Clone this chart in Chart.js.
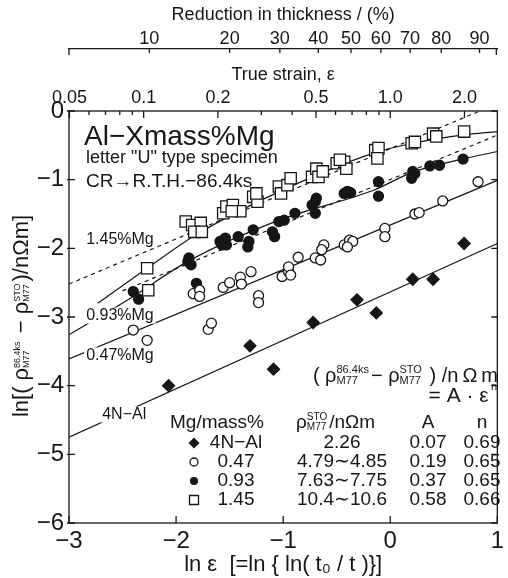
<!DOCTYPE html>
<html>
<head>
<meta charset="utf-8">
<script src="https://cdn.jsdelivr.net/npm/chart.js@4.4.0/dist/chart.umd.min.js"></script>
<style>
  html, body { margin: 0; padding: 0; background: #fff; }
</style>
</head>
<body>
<canvas id="plot" width="508" height="578"></canvas>
<script>
// x = ln(true strain), y = ln(delta rho / nOhm m)
const al4nX = [-2.07, -1.31, -1.09, -0.72, -0.31, -0.13, 0.21, 0.40, 0.69];
const al4nY = [-4.00, -3.42, -3.76, -3.08, -2.75, -2.94, -2.45, -2.45, -1.93];

const mg047X = [-2.40, -2.27, -1.84, -1.78, -1.78, -1.70, -1.67, -1.56, -1.50, -1.40, -1.39, -1.30, -1.23, -1.23,
  -1.01, -0.95, -0.95, -0.93, -0.86, -0.70, -0.65, -0.62, -0.64, -0.43, -0.38, -0.35, -0.40, -0.05, -0.05,
  0.23, 0.27, 0.49, 0.82];
const mg047Y = [-3.19, -3.34, -2.66, -2.61, -2.70, -3.18, -3.09, -2.57, -2.50, -2.42, -2.52, -2.34, -2.69, -2.79,
  -2.41, -2.34, -2.27, -2.39, -2.13, -2.14, -2.17, -1.95, -2.02, -1.95, -1.88, -1.90, -1.98, -1.71, -1.83,
  -1.50, -1.48, -1.31, -1.03];

const mg093X = [-2.40, -2.35, -1.81, -1.88, -1.86, -1.89, -1.59, -1.54, -1.53, -1.57, -1.42, -1.32, -1.33, -1.28,
  -1.10, -1.08, -1.04, -0.99, -0.89, -0.73, -0.70, -0.69, -0.70, -0.43, -0.40, -0.37, -0.11, -0.11,
  0.21, 0.23, 0.20, 0.37, 0.46, 0.68];
const mg093Y = [-2.63, -2.74, -2.51, -2.14, -2.24, -2.19, -1.90, -1.85, -1.95, -1.95, -1.83, -1.90, -1.98, -1.73,
  -1.76, -1.83, -1.61, -1.59, -1.49, -1.37, -1.32, -1.27, -1.49, -1.20, -1.17, -1.19, -1.03, -1.24,
  -0.88, -0.91, -0.98, -0.80, -0.79, -0.70];

const mg145X = [-2.27, -2.26, -1.91, -1.85, -1.77, -1.83, -1.76, -1.56, -1.53, -1.47, -1.40, -1.48, -1.28, -1.24,
  -1.25, -1.04, -1.02, -0.96, -0.93, -0.73, -0.69, -0.67, -0.63, -0.50, -0.43, -0.41, -0.47, -0.14, -0.11,
  -0.12, 0.20, 0.23, 0.40, 0.43, 0.69];
const mg145Y = [-2.29, -2.61, -1.61, -1.66, -1.63, -1.76, -1.76, -1.49, -1.39, -1.37, -1.46, -1.46, -1.25, -1.32,
  -1.20, -1.10, -1.20, -1.08, -0.98, -0.96, -0.84, -0.96, -0.88, -0.76, -0.74, -0.84, -0.71, -0.57, -0.54,
  -0.69, -0.47, -0.45, -0.33, -0.37, -0.30];

// drawn lines (solid fits, curved guides, dashed power-law fits)
const line4nX = [-3, 1],        line4nY = [-4.75, -1.93];
const line047X = [-3, 1],       line047Y = [-3.61, -1.01];
const curve093X = [-3.0, -2.43, -1.89, -1.04, -0.15, 0.21, 0.67, 1.0];
const curve093Y = [-3.26, -2.73, -2.19, -1.59, -1.15, -0.89, -0.70, -0.59];
const curve145X = [-2.73, -2.27, -1.81, -1.07, -0.15, 0.21, 0.67, 1.0];
const curve145Y = [-2.80, -2.29, -1.80, -1.20, -0.61, -0.47, -0.35, -0.30];
const dash093X = [-2.5, 1],     dash093Y = [-2.62, -0.35];
const dash145X = [-3, 0.82],    dash145Y = [-2.52, -0.01];

// axes
const xTicks = [-3, -2, -1, 0, 1];
const strainMajor = [0.05, 0.1, 0.2, 0.5, 1.0, 2.0];
const strainLabels = ['0.05', '0.1', '0.2', '0.5', '1.0', '2.0'];
const strainMinor = [0.06, 0.07, 0.08, 0.09, 0.3, 0.4, 0.6, 0.7, 0.8, 0.9];
const reduction = [10, 20, 30, 40, 50, 60, 70, 80, 90];

// legend table
const legendNames = ['4N\u2212Al', '0.47', '0.93', '1.45'];
const legendRho = ['2.26', '4.79\u223C4.85', '7.63\u223C7.75', '10.4\u223C10.6'];
const legendA = ['0.07', '0.19', '0.37', '0.58'];
const legendN = ['0.69', '0.65', '0.65', '0.66'];

const FONT = "'Liberation Sans', Arial, sans-serif";
const INK = '#161616';
Chart.defaults.font.family = FONT;
Chart.defaults.color = INK;

const pts = (xs, ys) => xs.map((v, i) => ({x: v, y: ys[i]}));
const minus = v => (v < 0 ? '\u2212' + Math.abs(v) : String(v));

function lineSet(xs, ys, dashed, smooth) {
  return {
    type: 'line', data: pts(xs, ys), borderColor: INK, borderWidth: 1.2,
    borderDash: dashed ? [4, 4] : [], pointRadius: 0, fill: false,
    tension: smooth ? 0.4 : 0, cubicInterpolationMode: smooth ? 'monotone' : 'default', order: 2
  };
}
function markSet(xs, ys, style, r, fillCol) {
  return {
    type: 'scatter', data: pts(xs, ys), pointStyle: style, pointRadius: r,
    backgroundColor: fillCol, borderColor: INK, borderWidth: 1.3, order: 0
  };
}

// text runs: {t, s} plain, {sup, sub, s} stacked scripts, {up, s} raised only
function drawRich(ctx, parts, x, y) {
  let cx = x;
  parts.forEach(p => {
    ctx.font = p.s + 'px ' + FONT;
    if (p.t !== undefined) {
      ctx.fillText(p.t, cx, y);
      cx += ctx.measureText(p.t).width;
    } else if (p.up !== undefined) {
      ctx.fillText(p.up, cx, y - p.s * 0.8);
      cx += ctx.measureText(p.up).width;
    } else {
      ctx.fillText(p.sup, cx, y - p.s * 0.55);
      ctx.fillText(p.sub, cx, y + p.s * 0.45);
      cx += Math.max(ctx.measureText(p.sup).width, ctx.measureText(p.sub).width) + 2;
    }
  });
  return cx - x;
}
function richWidth(ctx, parts) {
  let w = 0;
  parts.forEach(p => {
    ctx.font = p.s + 'px ' + FONT;
    if (p.t !== undefined) w += ctx.measureText(p.t).width;
    else if (p.up !== undefined) w += ctx.measureText(p.up).width;
    else w += Math.max(ctx.measureText(p.sup).width, ctx.measureText(p.sub).width) + 2;
  });
  return w;
}

function marker(ctx, kind, x, y) {
  ctx.beginPath();
  if (kind === 0) {
    ctx.moveTo(x, y - 5.5); ctx.lineTo(x + 5.5, y); ctx.lineTo(x, y + 5.5); ctx.lineTo(x - 5.5, y); ctx.closePath();
    ctx.fill();
  } else if (kind === 1) {
    ctx.arc(x, y, 4, 0, Math.PI * 2); ctx.stroke();
  } else if (kind === 2) {
    ctx.arc(x, y, 4, 0, Math.PI * 2); ctx.fill();
  } else {
    ctx.rect(x - 4.5, y - 4.5, 9, 9); ctx.stroke();
  }
}

const decor = {
  id: 'decor',
  afterDatasetsDraw(chart) {
    const {ctx, scales} = chart;
    const sx = scales.x, sy = scales.y;
    ctx.save();
    ctx.fillStyle = INK; ctx.strokeStyle = INK;
    ctx.textBaseline = 'middle'; ctx.textAlign = 'left';

    // curve labels, sitting on their lines
    const tags = [['1.45%Mg', -2.84, -1.88], ['0.93%Mg', -2.84, -2.98], ['0.47%Mg', -2.84, -3.56], ['4N\u2212Al', -2.69, -4.42]];
    ctx.font = '16px ' + FONT;
    tags.forEach(([t, vx, vy]) => {
      const px = sx.getPixelForValue(vx), py = sy.getPixelForValue(vy);
      const w = ctx.measureText(t).width;
      ctx.fillStyle = '#fff';
      ctx.fillRect(px - 2, py - 8, w + 4, 16);
      ctx.fillStyle = INK;
      ctx.fillText(t, px, py);
    });

    // specimen block
    ctx.font = '28px ' + FONT;
    ctx.fillText('Al\u2212Xmass%Mg', 84, 137);
    ctx.font = '18px ' + FONT;
    ctx.fillText('letter "U" type specimen', 86, 158);
    ctx.font = '19px ' + FONT;
    ctx.fillText('CR\u2192R.T.H.\u221286.4ks', 86, 182);

    // formula
    const formula = [{t: '( \u03C1', s: 20}, {sup: '86.4ks', sub: 'M77', s: 11}, {t: '\u2212 \u03C1', s: 20},
      {sup: 'STO', sub: 'M77', s: 11}, {t: ' ) /n\u2009\u03A9\u2009m', s: 20}];
    drawRich(ctx, formula, 498 - richWidth(ctx, formula), 376);
    const eq = [{t: '= A \u00B7 \u03B5', s: 21}, {t: ' ', s: 8}, {up: 'n', s: 11}];
    drawRich(ctx, eq, 497 - richWidth(ctx, eq), 396);

    // table header
    ctx.font = '19px ' + FONT;
    ctx.fillText('Mg/mass%', 170, 423);
    drawRich(ctx, [{t: '\u03C1', s: 19}, {sup: 'STO', sub: 'M77', s: 10}, {t: '/n\u03A9m', s: 19}], 296, 423);
    ctx.font = '19px ' + FONT;
    ctx.textAlign = 'center';
    ctx.fillText('A', 428, 423);
    ctx.fillText('n', 482, 423);
    const rowY = [443, 462, 481, 500];
    rowY.forEach((y, i) => {
      ctx.lineWidth = 1.3;
      marker(ctx, i, 194, y);
      ctx.fillText(legendNames[i], 236, y);
      ctx.fillText(legendRho[i], 342, y);
      ctx.fillText(legendA[i], 428, y);
      ctx.fillText(legendN[i], 482, y);
    });
    ctx.restore();
  },
  afterDraw(chart) {
    const {ctx, chartArea: a, scales} = chart;
    ctx.save();
    ctx.strokeStyle = INK; ctx.lineWidth = 1.3;
    ctx.strokeRect(a.left, a.top, a.right - a.left, a.bottom - a.top);
    ctx.beginPath();
    xTicks.forEach(v => { const p = scales.x.getPixelForValue(v); ctx.moveTo(p, a.bottom); ctx.lineTo(p, a.bottom - 7); });
    scales.y.ticks.forEach(t => {
      const p = scales.y.getPixelForValue(t.value);
      ctx.moveTo(a.left - 2, p); ctx.lineTo(a.left + 6, p);
      ctx.moveTo(a.right, p); ctx.lineTo(a.right - 6, p);
    });
    strainMajor.forEach(e => { const p = scales.xs.getPixelForValue(Math.log(e)); ctx.moveTo(p, a.top); ctx.lineTo(p, a.top + 7); });
    strainMinor.forEach(e => { const p = scales.xs.getPixelForValue(Math.log(e)); ctx.moveTo(p, a.top); ctx.lineTo(p, a.top + 4); });
    const rb = scales.xr.bottom;
    reduction.forEach(r => { const p = scales.xr.getPixelForValue(Math.log(-Math.log(1 - r / 100))); ctx.moveTo(p, rb); ctx.lineTo(p, rb + 4); });
    [scales.xr.left, scales.xr.right - 1].forEach(p => { ctx.moveTo(p, rb); ctx.lineTo(p, rb + 6); });
    ctx.stroke();

    // y-axis title, rotated
    const ylab = [{t: 'ln[( \u03C1', s: 22}, {sup: '86.4ks', sub: 'M77', s: 9}, {t: ' \u2212 \u03C1', s: 22},
      {sup: 'STO', sub: 'M77', s: 9}, {t: ')/n\u03A9m]', s: 22}];
    ctx.fillStyle = INK; ctx.textBaseline = 'middle'; ctx.textAlign = 'left';
    ctx.translate(22, 316);
    ctx.rotate(-Math.PI / 2);
    drawRich(ctx, ylab, -richWidth(ctx, ylab) / 2, 0);
    ctx.restore();
  }
};

new Chart(document.getElementById('plot'), {
  type: 'scatter',
  data: {
    datasets: [
      lineSet(line4nX, line4nY, false, false),
      lineSet(line047X, line047Y, false, false),
      lineSet(curve093X, curve093Y, false, true),
      lineSet(curve145X, curve145Y, false, true),
      lineSet(dash093X, dash093Y, true, false),
      lineSet(dash145X, dash145Y, true, false),
      markSet(al4nX, al4nY, 'rectRot', 6, INK),
      markSet(mg047X, mg047Y, 'circle', 5, '#fff'),
      markSet(mg093X, mg093Y, 'circle', 5, INK),
      markSet(mg145X, mg145Y, 'rect', 8, '#fff')
    ]
  },
  options: {
    responsive: false,
    animation: false,
    layout: {padding: {left: 0, right: 2, top: 0, bottom: 0}},
    plugins: {legend: {display: false}, tooltip: {enabled: false}},
    scales: {
      x: {
        type: 'linear', position: 'bottom', min: -3, max: 1,
        afterBuildTicks: s => { s.ticks = xTicks.map(v => ({value: v})); },
        afterFit: s => { s.height = 55; },
        ticks: {font: {size: 24}, padding: 4, autoSkip: false, maxRotation: 0, callback: v => minus(v)},
        grid: {display: false, drawTicks: false}, border: {display: false},
        title: {display: true, text: 'ln \u03B5  [=ln { ln( t\u2080 / t )}]', font: {size: 22}, padding: {top: 0, bottom: 0}}
      },
      xs: {
        type: 'linear', position: 'top', min: -3, max: 1, weight: 1,
        afterBuildTicks: s => { s.ticks = strainMajor.map(e => ({value: Math.log(e)})); },
        afterFit: s => { s.height = 62; },
        ticks: {font: {size: 18}, padding: 2, autoSkip: false, maxRotation: 0, callback: (v, i) => strainLabels[i]},
        grid: {display: false, drawTicks: false}, border: {display: false},
        title: {display: true, text: 'True strain, \u03B5', font: {size: 18}, padding: {top: 15, bottom: 0}}
      },
      xr: {
        type: 'linear', position: 'top', min: -3, max: 1, weight: 2,
        afterBuildTicks: s => { s.ticks = reduction.map(r => ({value: Math.log(-Math.log(1 - r / 100))})); },
        afterFit: s => { s.height = 49; },
        ticks: {font: {size: 18}, padding: -1, autoSkip: false, maxRotation: 0, callback: (v, i) => String(reduction[i])},
        grid: {display: false, drawTicks: false}, border: {display: true, color: INK, width: 1.3},
        title: {display: true, text: 'Reduction in thickness / (%)', font: {size: 18}, padding: {top: 4, bottom: 0}}
      },
      y: {
        type: 'linear', position: 'left', min: -6, max: 0,
        afterFit: s => { s.width = 69; },
        ticks: {stepSize: 1, font: {size: 24}, padding: 5, callback: v => minus(v)},
        grid: {display: false, drawTicks: false}, border: {display: false}
      }
    }
  },
  plugins: [decor]
});
</script>
</body>
</html>
